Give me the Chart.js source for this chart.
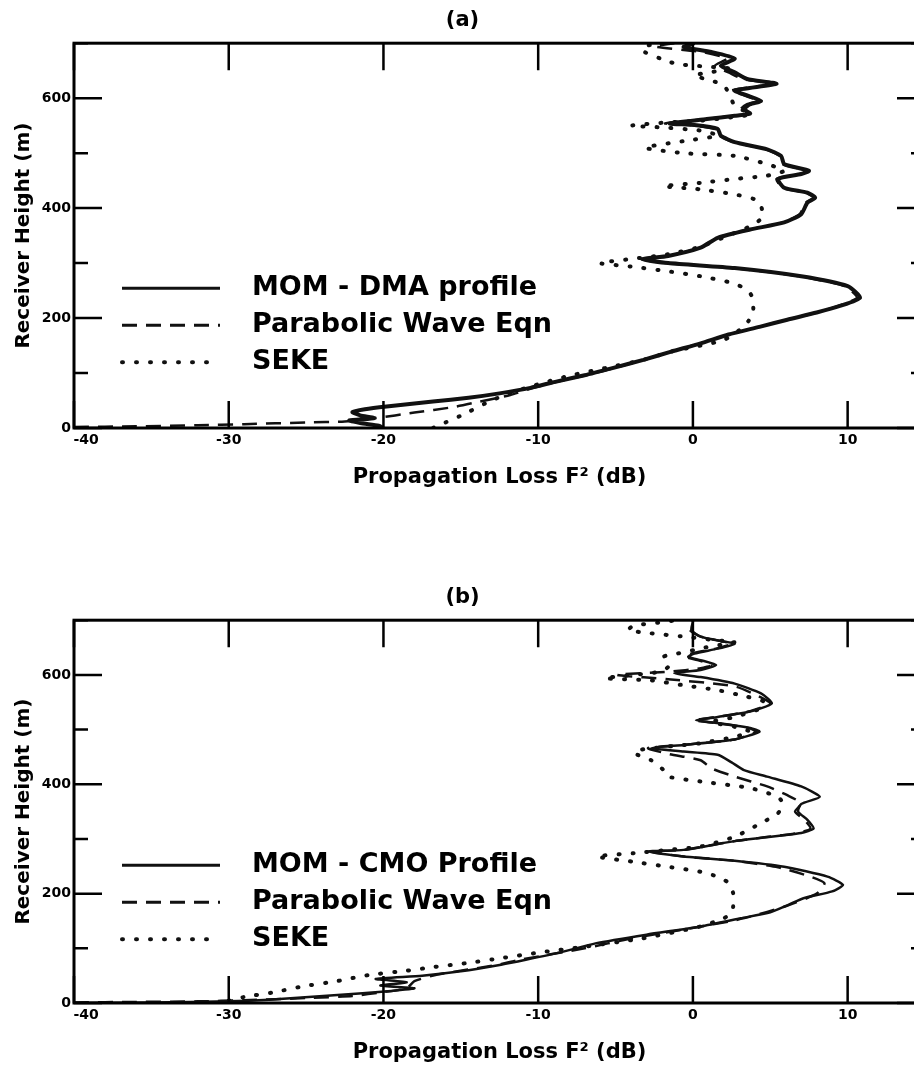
<!DOCTYPE html>
<html>
<head>
<meta charset="utf-8">
<script src="https://cdn.jsdelivr.net/npm/chart.js"></script>
<style>
    html, body { margin: 0; padding: 0; background: #fff; overflow: hidden; width: 914px; height: 1072px; }
    canvas { position: absolute; left: 0; }
    #chart-a { top: 0; }
    #chart-b { top: 577px; }
</style>
</head>
<body>
<canvas id="chart-a" width="1000" height="500"></canvas>
<canvas id="chart-b" width="1000" height="498"></canvas>
<script>
// ================================ DATA ================================
// Heights are in metres, losses in dB. Each curve is a profile: loss as a function of height.

// Panel (a)
const momDmaHeight = [0, 4, 9, 14, 18, 23, 29, 34, 39, 48, 55, 63, 73, 84, 96, 109, 124, 139, 154, 170, 184, 197, 210, 222, 237, 258, 276, 291, 300, 307, 313, 328, 346, 361, 374, 389, 410, 419, 428, 437, 453, 462, 468, 480, 495, 507, 520, 532, 544, 551, 554, 562, 568, 572, 580, 589, 595, 605, 614, 626, 635, 647, 659, 672, 684, 693, 700];
const momDmaLoss = [-20.0, -20.3, -21.5, -22.2, -20.6, -21.5, -22.0, -21.2, -19.8, -16.8, -14.5, -12.5, -10.5, -8.9, -7.0, -5.2, -3.2, -1.4, 0.5, 2.3, 4.3, 6.1, 8.0, 9.5, 10.8, 10.0, 7.0, 2.7, -1.6, -3.3, -1.6, 0.5, 1.6, 3.7, 5.9, 7.0, 7.4, 7.9, 7.4, 5.9, 5.5, 7.0, 7.5, 5.9, 5.7, 4.8, 2.7, 1.8, 1.6, 0.1, -1.5, 0.9, 2.7, 3.7, 3.3, 3.7, 4.4, 3.5, 2.7, 5.4, 3.5, 2.7, 1.8, 2.7, 1.2, -0.6, 0.1];

const parabolicAHeight = [2, 3, 5, 7, 10, 12, 18, 28, 38, 48, 60, 73, 84, 96, 109, 124, 139, 154, 170, 184, 197, 210, 222, 237, 258, 276, 291, 300, 307, 313, 328, 346, 361, 374, 389, 410, 419, 428, 437, 453, 462, 468, 480, 495, 507, 520, 532, 544, 551, 554, 562, 568, 572, 580, 589, 595, 605, 614, 626, 635, 647, 659, 672, 684, 694, 700];
const parabolicALoss = [-40, -36, -32, -29, -25, -22.5, -20.5, -18.0, -15.5, -13.8, -11.8, -10.3, -8.8, -6.9, -5.1, -3.2, -1.4, 0.5, 2.3, 4.3, 6.1, 8.0, 9.4, 10.6, 9.8, 6.9, 2.6, -1.7, -3.3, -1.6, 0.5, 1.6, 3.7, 5.8, 6.9, 7.3, 7.8, 7.3, 5.8, 5.4, 6.9, 7.4, 5.8, 5.6, 4.7, 2.6, 1.7, 1.4, -0.2, -1.8, 0.8, 2.6, 3.6, 3.1, 3.5, 4.2, 3.3, 2.5, 5.0, 3.2, 2.3, 1.4, 2.2, 0.6, -2.5, -1.2];

const sekeAHeight = [0, 10, 25, 45, 62, 78, 95, 110, 124, 139, 150, 160, 178, 195, 215, 240, 252, 264, 276, 285, 293, 300, 308, 316, 330, 355, 367, 383, 404, 416, 425, 434, 440, 446, 453, 459, 468, 480, 495, 500, 510, 522, 532, 541, 547, 550, 556, 559, 566, 571, 586, 605, 623, 632, 641, 647, 653, 656, 662, 672, 687, 696, 700];
const sekeALoss = [-16.8, -16.0, -14.8, -13.4, -12.0, -10.2, -8.0, -5.5, -3.2, -1.4, 0.5, 2.0, 3.0, 3.6, 3.9, 3.8, 3.5, 2.5, 0.5, -1.6, -3.8, -6.0, -3.8, -1.6, 0.5, 2.7, 3.7, 4.5, 4.4, 4.0, 2.7, 0.5, -1.9, 0.5, 2.7, 4.8, 5.9, 4.8, 2.7, -0.6, -3.1, -0.6, 1.6, 0.5, -2.1, -4.0, -1.6, 0.5, 2.7, 3.7, 2.7, 2.4, 2.0, 1.2, 0.1, 1.0, 2.7, 1.6, -1.0, -2.1, -3.3, -2.9, -1.9];

// Panel (b)
const momCmoHeight = [0, 1, 3, 6, 14, 22, 27, 32, 38, 44, 50, 58, 70, 79, 93, 109, 125, 140, 155, 166, 180, 192, 204, 216, 231, 249, 260, 268, 277, 280, 296, 311, 319, 335, 350, 364, 377, 396, 414, 426, 440, 454, 460, 466, 472, 482, 496, 503, 512, 517, 523, 533, 548, 566, 584, 596, 603, 609, 618, 627, 633, 639, 648, 657, 662, 670, 682, 697, 700];
const momCmoLoss = [-40, -35, -30, -27.4, -23.2, -19.5, -18.0, -20.2, -18.5, -20.5, -17.5, -15.0, -12.4, -10.8, -8.5, -6.3, -3.0, 0.5, 3.1, 5.0, 6.2, 7.2, 9.0, 9.7, 8.7, 5.9, 2.7, -0.6, -2.9, -0.6, 2.7, 7.0, 7.8, 7.4, 6.8, 7.0, 8.2, 7.0, 4.8, 3.3, 2.5, 1.6, -0.6, -2.7, -0.6, 2.7, 4.3, 3.7, 1.6, 0.2, 1.6, 3.7, 5.1, 4.4, 2.7, 0.5, -1.2, 0.5, 1.5, 0.5, -0.3, 0.1, 1.6, 2.7, 1.8, 0.5, -0.1, 0.0, 0.0];

const parabolicBHeight = [1, 2, 3, 5, 9, 13, 20, 27, 40, 52, 70, 80, 100, 118, 135, 150, 158, 176, 200, 219, 232, 248, 260, 268, 277, 280, 296, 311, 319, 335, 350, 365, 380, 396, 414, 429, 444, 455, 466, 472, 482, 496, 503, 512, 517, 523, 533, 548, 559, 579, 592, 600, 606, 612, 618, 627, 633, 640, 648, 657, 670, 682, 700];
const parabolicBLoss = [-40, -36, -32, -29, -25, -22, -20, -18.5, -18.0, -16.5, -12.6, -11.0, -7.0, -4.0, -0.5, 2.5, 3.7, 5.9, 8.0, 8.5, 7.5, 5.5, 2.7, -0.6, -2.8, -0.6, 2.7, 6.8, 7.6, 7.2, 6.6, 7.0, 6.1, 4.8, 2.7, 1.2, 0.5, -1.5, -2.9, -0.6, 2.7, 4.1, 3.6, 1.5, 0.1, 1.5, 3.6, 5.0, 4.4, 2.7, -1.6, -4.9, -1.5, 0.5, 1.2, 0.3, -0.5, 0.0, 1.5, 2.5, 0.5, -0.2, 0.0];

const sekeBHeight = [4, 11, 20, 30, 40, 51, 59, 66, 73, 82, 92, 103, 118, 140, 155, 165, 176, 190, 201, 215, 222, 231, 240, 249, 258, 268, 274, 280, 286, 304, 329, 347, 365, 377, 393, 405, 414, 426, 444, 457, 463, 469, 475, 487, 496, 505, 514, 523, 539, 551, 560, 572, 581, 590, 594, 600, 606, 615, 633, 639, 650, 660, 663, 670, 676, 682, 690, 696, 700];
const sekeBLoss = [-30, -29, -27, -25.3, -23, -21, -18.5, -16.7, -14.6, -12.4, -10, -7, -3.3, 0.5, 2.0, 2.5, 2.6, 2.6, 2.6, 2.4, 2.2, 1.6, 0.5, -1.6, -3.8, -6.2, -3.8, -1.6, 0.5, 2.7, 4.4, 5.5, 5.8, 5.5, 3.7, 0.5, -1.6, -1.9, -2.7, -3.8, -3.4, -1.6, 0.5, 2.7, 3.7, 2.7, 1.2, 2.7, 4.4, 4.6, 3.5, 1.6, -0.6, -2.7, -5.7, -3.8, -2.1, -1.6, -1.9, -1.0, 0.8, 2.7, 1.6, -0.6, -2.7, -4.2, -3.8, -2.1, -1.0];

// Axis ticks and labels
const xTickValues = [-40, -30, -20, -10, 0, 10];
const yLabelValues = [0, 200, 400, 600];
const xRange = [-40, 15];
const yRange = [0, 700];

// ================================ DRAWING ================================
const FONT = 'DejaVu Sans';
const INK = '#000';

// turns two parallel arrays into {x, y} points
function toPoints(heights, losses){
    return heights.map((h, i) => ({x: losses[i], y: h}));
}

// frame round the plot area and inward tick marks on all four sides
const frameTicks = {
    id: 'frameTicks',
    afterDatasetsDraw(chart){
        const {ctx, chartArea: a, scales: {x, y}} = chart;
        ctx.save();
        ctx.strokeStyle = INK;
        ctx.lineWidth = 3;
        ctx.strokeRect(a.left, a.top, a.right - a.left, a.bottom - a.top);
        ctx.lineWidth = 2.5;
        ctx.beginPath();
        for (let t of x.ticks){
            const px = x.getPixelForValue(t.value);
            ctx.moveTo(px, a.top); ctx.lineTo(px, a.top + 27);
            ctx.moveTo(px, a.bottom); ctx.lineTo(px, a.bottom - 27);
        }
        for (let t of y.ticks){
            const py = y.getPixelForValue(t.value);
            const len = yLabelValues.includes(t.value) ? 28 : 14; // labelled ticks are long
            ctx.moveTo(a.left, py); ctx.lineTo(a.left + len, py);
            ctx.moveTo(a.right, py); ctx.lineTo(a.right - len, py);
        }
        ctx.stroke();
        ctx.restore();
    }
};

// legend drawn inside the plot, line sample then label
const lineKey = {
    id: 'lineKey',
    afterDraw(chart){
        const {ctx, chartArea: a} = chart;
        ctx.save();
        ctx.font = 'bold 27px "' + FONT + '"';
        ctx.textBaseline = 'middle';
        chart.data.datasets.forEach((ds, i) => {
            const rowY = a.top + 245 + i * 37;
            ctx.strokeStyle = ds.borderColor;
            ctx.lineWidth = ds.keyWidth;
            ctx.lineCap = ds.borderCapStyle || 'butt';
            ctx.setLineDash(ds.borderDash || []);
            ctx.beginPath();
            ctx.moveTo(a.left + 48, rowY);
            ctx.lineTo(a.left + 146, rowY);
            ctx.stroke();
            ctx.setLineDash([]);
            ctx.fillStyle = INK;
            ctx.fillText(ds.label, a.left + 178, rowY);
        });
        ctx.restore();
    }
};

function makeLine(label, heights, losses, kind, width){
    const line = {
        label: label,
        data: toPoints(heights, losses),
        showLine: true,
        fill: false,
        pointRadius: 0,
        borderColor: '#111',
        borderWidth: width,
        keyWidth: 3,
        tension: 0.2
    };
    if (kind == 'dashed'){
        line.borderDash = [15, 9];
    }
    else if (kind == 'dotted'){
        line.borderDash = [1, 13];
        line.borderCapStyle = 'round';
        line.borderWidth = 4;
        line.keyWidth = 4;
    }
    return line;
}

function makeChart(canvasId, panelTitle, lines){
    let ctx = document.getElementById(canvasId).getContext('2d');
    return new Chart(ctx, {
        type: 'scatter',
        data: { datasets: lines },
        options: {
            responsive: false,
            animation: false,
            layout: { padding: { left: 0, right: 75, top: 0, bottom: 0 } },
            plugins: {
                legend: { display: false },
                tooltip: { enabled: false },
                title: {
                    display: true,
                    text: panelTitle,
                    color: INK,
                    font: { family: FONT, size: 21, weight: 'bold' },
                    padding: { top: 8, bottom: 10 }
                }
            },
            scales: {
                x: {
                    type: 'linear',
                    min: xRange[0],
                    max: xRange[1],
                    grid: { display: false, drawTicks: false },
                    border: { display: false },
                    afterFit: (scale) => { scale.height = 72; },
                    afterBuildTicks: (scale) => { scale.ticks = xTickValues.map(v => ({value: v})); },
                    ticks: {
                        autoSkip: false,
                        maxRotation: 0,
                        padding: 4,
                        color: INK,
                        font: { family: FONT, size: 14, weight: 'bold' },
                        // first label sits clear of the y axis, as in the figure
                        callback: (v) => v == xRange[0] ? '     ' + v : String(v)
                    },
                    title: {
                        display: true,
                        text: 'Propagation Loss F\u00B2 (dB)',
                        color: INK,
                        font: { family: FONT, size: 21, weight: 'bold' },
                        padding: { top: 0, bottom: 10 }
                    }
                },
                y: {
                    type: 'linear',
                    min: yRange[0],
                    max: yRange[1],
                    grid: { display: false, drawTicks: false },
                    border: { display: false },
                    afterFit: (scale) => { scale.width = 74; },
                    ticks: {
                        stepSize: 100,
                        padding: 3,
                        color: INK,
                        font: { family: FONT, size: 14, weight: 'bold' },
                        callback: (v) => yLabelValues.includes(v) ? String(v) : ''
                    },
                    title: {
                        display: true,
                        text: 'Receiver Height (m)',
                        color: INK,
                        font: { family: FONT, size: 20, weight: 'bold' },
                        padding: { top: 12, bottom: 0 }
                    }
                }
            }
        },
        plugins: [frameTicks, lineKey]
    });
}

makeChart('chart-a', '(a)', [
    makeLine('MOM - DMA profile', momDmaHeight, momDmaLoss, 'solid', 4),
    makeLine('Parabolic Wave Eqn', parabolicAHeight, parabolicALoss, 'dashed', 2.5),
    makeLine('SEKE', sekeAHeight, sekeALoss, 'dotted', 4)
]);

makeChart('chart-b', '(b)', [
    makeLine('MOM - CMO Profile', momCmoHeight, momCmoLoss, 'solid', 2.5),
    makeLine('Parabolic Wave Eqn', parabolicBHeight, parabolicBLoss, 'dashed', 2.5),
    makeLine('SEKE', sekeBHeight, sekeBLoss, 'dotted', 4)
]);
</script>
</body>
</html>
